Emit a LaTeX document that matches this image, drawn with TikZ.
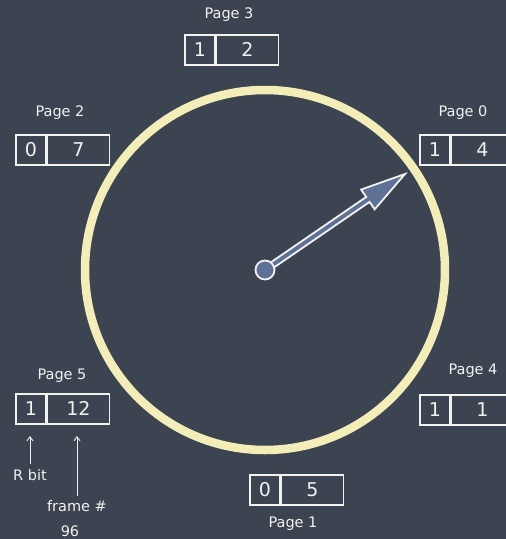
\documentclass[tikz,border=0pt]{standalone}
\usepackage{fontspec}
\setmainfont{DejaVu Sans}
\usetikzlibrary{calc,arrows.meta}
\definecolor{board}{HTML}{3C4351}
\definecolor{chalk}{HTML}{F2F2EE}
\definecolor{ring}{HTML}{F3EDB8}
\definecolor{hand}{HTML}{5E7298}
\tikzset{
  cell/.style={draw=chalk, line width=1.6pt, minimum height=30pt, inner sep=0pt, text=chalk, font=\fontsize{19}{19}\selectfont},
  rcell/.style={cell, minimum width=30pt},
  fcell/.style={cell, minimum width=62pt},
  plabel/.style={text=chalk, font=\fontsize{14.5}{15}\selectfont, inner sep=0pt},
  note/.style={text=chalk, font=\fontsize{14.5}{15}\selectfont, inner sep=0pt},
  pointer/.style={draw=chalk, line width=0.9pt, -{Straight Barb[length=4pt,width=6pt]}}
}
\begin{document}
\begin{tikzpicture}[x=1pt,y=-1pt]
\useasboundingbox[fill=board] (0,0) rectangle (506,539);
% clock ring
\coordinate (C) at (265,270);
\draw[ring, line width=8.5pt] (C) circle[radius=180];
% hand
\coordinate (T) at (405,174);
\coordinate (B) at ($(T)!45pt!(C)$);
\filldraw[fill=hand, draw=chalk, line width=1.8pt, line join=miter]
  ($(C)!3pt!90:(T)$) -- ($(B)!3pt!-90:(C)$) -- ($(B)!12pt!-90:(C)$) -- (T)
  -- ($(B)!12pt!90:(C)$) -- ($(B)!3pt!90:(C)$) -- ($(C)!3pt!-90:(T)$) -- cycle;
\node[circle, fill=hand, draw=chalk, line width=1.8pt, minimum size=19pt, inner sep=0pt] (pivot) at (C) {};
% Page 3
\node[rcell, anchor=north west] (p3r) at (184,34) {1};
\node[fcell, anchor=west] (p3f) at (p3r.east) {2};
\node[plabel] (p3l) at (229,15) {Page 3};
% Page 2
\node[rcell, anchor=north west] (p2r) at (15,134) {0};
\node[fcell, anchor=west] (p2f) at (p2r.east) {7};
\node[plabel] (p2l) at (60,113) {Page 2};
% Page 0
\node[rcell, anchor=north west] (p0r) at (419,134) {1};
\node[fcell, anchor=west] (p0f) at (p0r.east) {4};
\node[plabel] (p0l) at (463,113) {Page 0};
% Page 5
\node[rcell, anchor=north west] (p5r) at (15,393) {1};
\node[fcell, anchor=west] (p5f) at (p5r.east) {12};
\node[plabel] (p5l) at (62,376) {Page 5};
% Page 4
\node[rcell, anchor=north west] (p4r) at (419,394) {1};
\node[fcell, anchor=west] (p4f) at (p4r.east) {1};
\node[plabel] (p4l) at (473,371) {Page 4};
% Page 1
\node[rcell, anchor=north west] (p1r) at (249,474) {0};
\node[fcell, anchor=west] (p1f) at (p1r.east) {5};
\node[plabel] (p1l) at (293,524) {Page 1};
% annotations
\node[note] (rbit) at (30,475) {R bit};
\node[note] (frame) at (77,506) {frame \#};
\node[note] (num) at (70,531) {96};
\coordinate (rbitTip) at (30,436);
\coordinate (frameTip) at (77,436);
\draw[pointer] ($(rbit.north)+(0,-5)$) -- (rbitTip);
\draw[pointer] ($(frame.north)+(0,-4)$) -- (frameTip);
\end{tikzpicture}
\end{document}
